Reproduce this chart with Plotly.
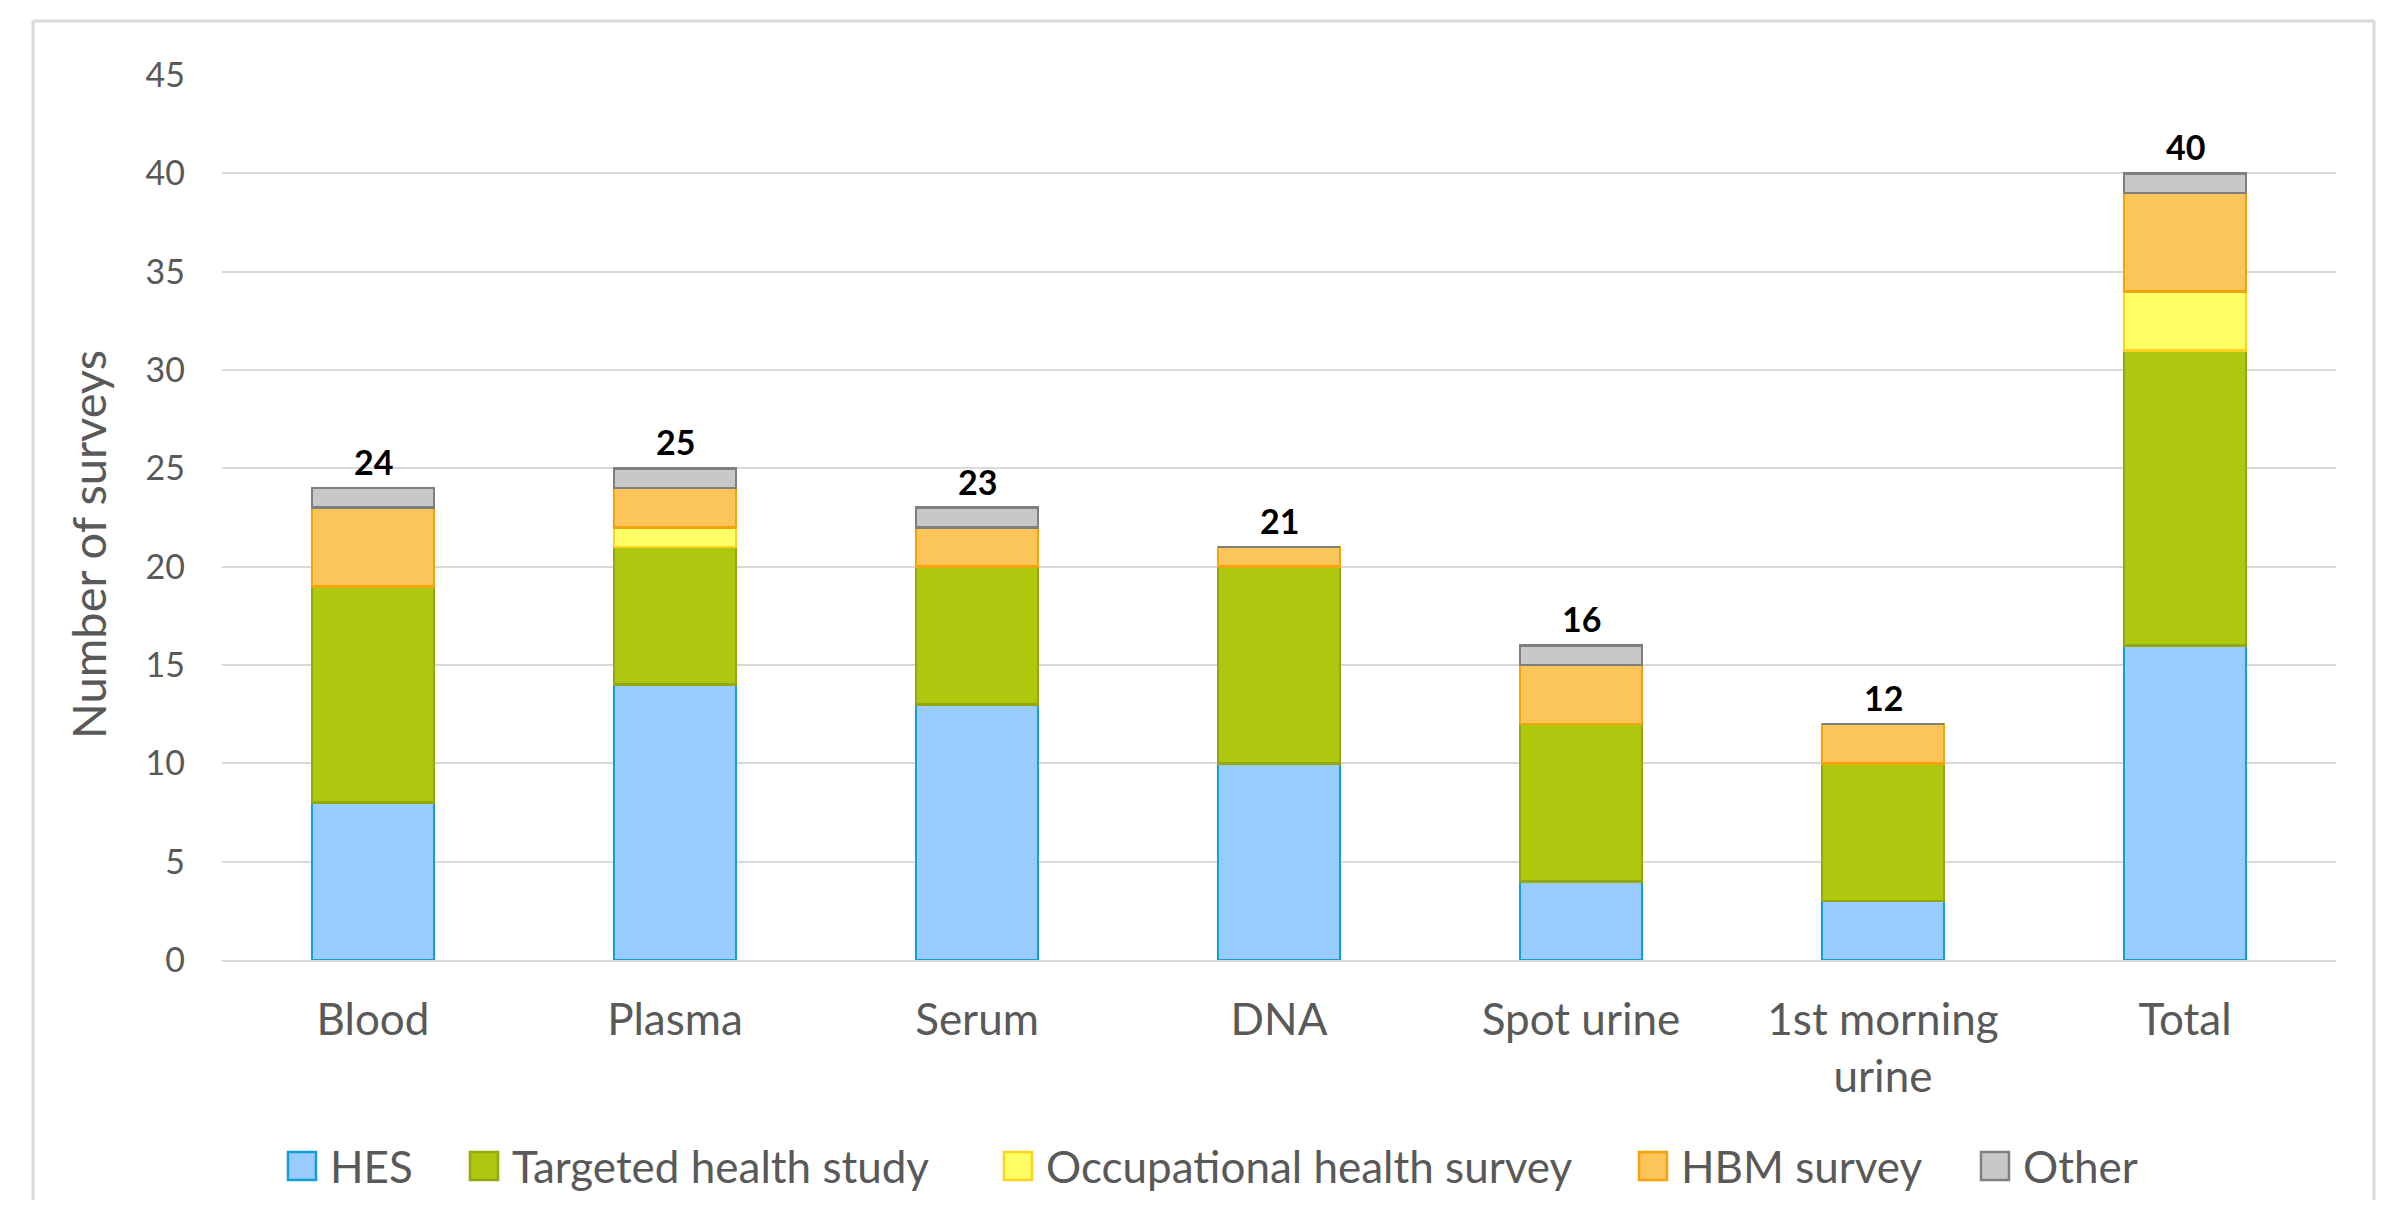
import plotly.graph_objects as go

# Data
categories = ['Blood', 'Plasma', 'Serum', 'DNA', 'Spot urine', '1st morning<br>urine', 'Total']
hes = [8, 14, 13, 10, 4, 3, 16]
targeted = [11, 7, 7, 10, 8, 7, 15]
occupational = [0, 1, 0, 0, 0, 0, 3]
hbm = [4, 2, 2, 1, 3, 2, 5]
other = [1, 1, 1, 0, 1, 0, 1]

series_names = ['HES', 'Targeted health study', 'Occupational health survey', 'HBM survey', 'Other']
series_values = [hes, targeted, occupational, hbm, other]
fill_colors = ['#99CCFF', '#AEC70F', '#FFFF66', '#FBC55A', '#C8C8C8']
line_colors = ['#139ED4', '#93A80C', '#FFD21F', '#F5A30A', '#7F7F7F']

W, H = 2389, 1208
OFF = 8  # body margin of the html page
# plot area in screen pixels
L, R, T, B = 222, 2336, 75, 960

def px_x(p):
    return (p - L) / (R - L)

def px_y(p):
    return (B - p) / (B - T)

FONT = 'Lato'
GREY = '#595959'

fig = go.Figure()
for name, vals, fc, lc in zip(series_names, series_values, fill_colors, line_colors):
    fig.add_trace(go.Bar(name=name, x=categories, y=vals,
                         marker=dict(color=fc, line=dict(color=lc, width=2.5)),
                         showlegend=False))

# totals above each bar
totals = [sum(v) for v in zip(*series_values)]
for cat, tot in zip(categories, totals):
    fig.add_annotation(x=cat, y=tot, text='<b>' + str(tot) + '</b>', showarrow=False,
                       yanchor='bottom', yshift=4,
                       font=dict(family=FONT, size=34, color='black'))

# legend drawn by hand so the swatches match the reference size
legend_left = [288, 470, 1004, 1639, 1981]
legend_mid = 1166
sw = 28
for name, fc, lc, lx in zip(series_names, fill_colors, line_colors, legend_left):
    fig.add_shape(type='rect', xref='paper', yref='paper',
                  x0=px_x(lx), x1=px_x(lx + sw), y0=px_y(legend_mid + sw / 2), y1=px_y(legend_mid - sw / 2),
                  fillcolor=fc, line=dict(color=lc, width=2.5))
    fig.add_annotation(xref='paper', yref='paper', x=px_x(lx + sw + 12), y=px_y(legend_mid),
                       text=name, showarrow=False, xanchor='left', yanchor='middle',
                       font=dict(family=FONT, size=44, color=GREY))

# y axis title, placed like the reference (a bit below the plot centre)
fig.add_annotation(xref='paper', yref='paper', x=px_x(88), y=px_y(545), text='Number of surveys',
                   textangle=-90, showarrow=False, xanchor='center', yanchor='middle',
                   font=dict(family=FONT, size=47, color=GREY))

# chart frame (bottom edge is cut off in the reference)
frame = dict(color='#D9D9D9', width=3)
fig.add_shape(type='line', xref='paper', yref='paper', x0=px_x(33), x1=px_x(2374), y0=px_y(21), y1=px_y(21), line=frame)
fig.add_shape(type='line', xref='paper', yref='paper', x0=px_x(33), x1=px_x(33), y0=px_y(21), y1=px_y(1230), line=frame)
fig.add_shape(type='line', xref='paper', yref='paper', x0=px_x(2374), x1=px_x(2374), y0=px_y(21), y1=px_y(1230), line=frame)

fig.update_layout(
    barmode='stack', bargap=0.596,
    width=W - 2 * OFF, height=H - 2 * OFF,
    margin=dict(l=L - OFF, r=W - R - OFF, t=T - OFF, b=H - B - OFF),
    paper_bgcolor='white', plot_bgcolor='white',
    font=dict(family=FONT, color=GREY),
    showlegend=False,
)
fig.update_xaxes(tickfont=dict(size=44, color=GREY), ticks='', ticklabelstandoff=20,
                 showline=True, linecolor='#D9D9D9', linewidth=2, showgrid=False)
fig.update_yaxes(range=[0, 45], dtick=5, tickfont=dict(size=34, color=GREY), ticks='',
                 ticklabelstandoff=36, showgrid=True, gridcolor='#D9D9D9', gridwidth=2,
                 zeroline=False, showline=False)

fig.write_html('out.html')
